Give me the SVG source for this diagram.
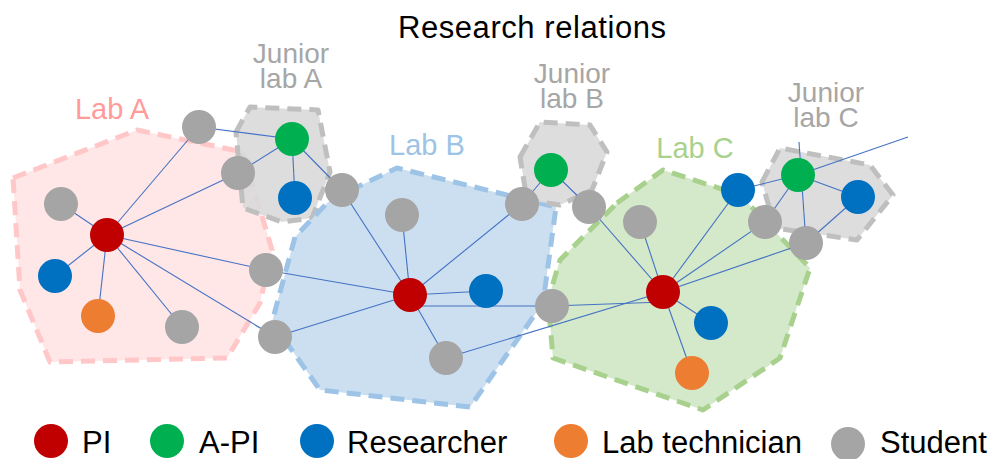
<svg xmlns="http://www.w3.org/2000/svg" width="995" height="459" viewBox="0 0 995 459">
<style>
text{font-family:"Liberation Sans",Arial,sans-serif}
.title{font-size:31px;fill:#000}
.lab{font-size:29px}
.jl{font-size:28px;fill:#A6A6A6}
.leg{font-size:31px;fill:#000}
.grp{stroke-width:5;stroke-dasharray:14 8;stroke-linejoin:round}
.labA{fill:#FFE6E7;stroke:#FFC7C8}
.labB{fill:#CCDFF1;stroke:#9DC3E6}
.labC{fill:#D4E8CA;stroke:#A9D18E}
.jun{fill:#D9D9D9;stroke:#BFBFBF;fill-opacity:0.9}
.e line{stroke:#4472C4;stroke-width:1.1}
.pi{fill:#C00000}.api{fill:#00B050}.res{fill:#0070C0}.tech{fill:#ED7D31}.stu{fill:#A5A5A5}
</style>
<text class="title" x="532" y="38" text-anchor="middle" textLength="268" lengthAdjust="spacing">Research relations</text>

<g id="lab-a">
<polygon class="grp labA" points="13,178 137,130 243,152 272,250 260,303 227,358 50,362 20,290"/>
<text class="lab" x="112" y="119" text-anchor="middle" fill="#FF9B9B">Lab A</text>
</g>
<g id="junior-lab-a">
<polygon class="grp jun" points="236,132 250,107 318,110 330,172 312,218 282,222 243,208"/>
<text class="jl" text-anchor="middle"><tspan x="291" y="63">Junior</tspan><tspan x="291" y="88">lab A</tspan></text>
</g>
<g id="lab-b">
<polygon class="grp labB" points="330,200 397,168 556,207 543,303 470,407 320,390 272,322 295,237"/>
<text class="lab" x="427" y="155" text-anchor="middle" fill="#9DC3E6">Lab B</text>
</g>
<g id="junior-lab-b">
<polygon class="grp jun" points="520,157 540,122 590,125 607,152 592,190 560,205 527,200"/>
<text class="jl" text-anchor="middle"><tspan x="572" y="83">Junior</tspan><tspan x="572" y="108">lab B</tspan></text>
</g>
<g id="lab-c">
<polygon class="grp labC" points="617,203 663,170 740,195 810,268 780,358 703,410 553,358 548,300 560,260"/>
<text class="lab" x="695" y="158" text-anchor="middle" fill="#A9D18E">Lab C</text>
</g>
<g id="junior-lab-c">
<polygon class="grp jun" points="762,182 780,148 870,165 893,195 857,240 775,228"/>
<text class="jl" text-anchor="middle"><tspan x="826" y="102">Junior</tspan><tspan x="826" y="127">lab C</tspan></text>
</g>

<g id="connectors" class="e">
<line x1="107" y1="235" x2="199" y2="127"/>
<line x1="107" y1="235" x2="238" y2="173"/>
<line x1="107" y1="235" x2="61" y2="204"/>
<line x1="107" y1="235" x2="55" y2="276"/>
<line x1="107" y1="235" x2="98" y2="316"/>
<line x1="107" y1="235" x2="182" y2="327"/>
<line x1="107" y1="235" x2="266" y2="270"/>
<line x1="107" y1="235" x2="275" y2="337"/>
<line x1="199" y1="127" x2="292" y2="139"/>
<line x1="292" y1="139" x2="238" y2="173"/>
<line x1="292" y1="139" x2="295" y2="198"/>
<line x1="292" y1="139" x2="342" y2="190"/>
<line x1="266" y1="270" x2="410" y2="295"/>
<line x1="275" y1="337" x2="410" y2="295"/>
<line x1="410" y1="295" x2="342" y2="190"/>
<line x1="410" y1="295" x2="402" y2="215"/>
<line x1="410" y1="295" x2="522" y2="204"/>
<line x1="410" y1="295" x2="486" y2="291"/>
<line x1="412" y1="306" x2="552" y2="306"/>
<line x1="410" y1="295" x2="446" y2="358"/>
<line x1="446" y1="358" x2="663" y2="292"/>
<line x1="552" y1="306" x2="663" y2="302"/>
<line x1="522" y1="204" x2="551" y2="170"/>
<line x1="551" y1="170" x2="589" y2="207"/>
<line x1="589" y1="207" x2="663" y2="292"/>
<line x1="663" y1="292" x2="640" y2="222"/>
<line x1="663" y1="292" x2="738" y2="190"/>
<line x1="663" y1="292" x2="765" y2="222"/>
<line x1="663" y1="292" x2="806" y2="243"/>
<line x1="663" y1="292" x2="711" y2="323"/>
<line x1="663" y1="292" x2="692" y2="373"/>
<line x1="738" y1="190" x2="798" y2="175"/>
<line x1="798" y1="175" x2="765" y2="222"/>
<line x1="798" y1="175" x2="858" y2="197"/>
<line x1="858" y1="197" x2="806" y2="243"/>
<line x1="798" y1="175" x2="908" y2="137"/>
<line x1="799" y1="142" x2="806" y2="243"/>
</g>

<g id="node-pi-a"><circle class="pi" cx="107" cy="235" r="17"/></g>
<g id="node-stu-a1"><circle class="stu" cx="199" cy="127" r="17"/></g>
<g id="node-stu-a2"><circle class="stu" cx="238" cy="173" r="17"/></g>
<g id="node-stu-a3"><circle class="stu" cx="61" cy="204" r="17"/></g>
<g id="node-res-a1"><circle class="res" cx="55" cy="276" r="17"/></g>
<g id="node-tech-a"><circle class="tech" cx="98" cy="316" r="17"/></g>
<g id="node-stu-a4"><circle class="stu" cx="182" cy="327" r="17"/></g>
<g id="node-stu-a5"><circle class="stu" cx="266" cy="270" r="17"/></g>
<g id="node-stu-a6"><circle class="stu" cx="275" cy="337" r="17"/></g>
<g id="node-api-ja"><circle class="api" cx="292" cy="139" r="17"/></g>
<g id="node-res-ja"><circle class="res" cx="295" cy="198" r="17"/></g>
<g id="node-stu-ja"><circle class="stu" cx="342" cy="190" r="17"/></g>
<g id="node-pi-b"><circle class="pi" cx="410" cy="295" r="17"/></g>
<g id="node-stu-b1"><circle class="stu" cx="402" cy="215" r="17"/></g>
<g id="node-res-b"><circle class="res" cx="486" cy="291" r="17"/></g>
<g id="node-stu-b2"><circle class="stu" cx="522" cy="204" r="17"/></g>
<g id="node-stu-b3"><circle class="stu" cx="552" cy="306" r="17"/></g>
<g id="node-stu-b4"><circle class="stu" cx="446" cy="358" r="17"/></g>
<g id="node-api-jb"><circle class="api" cx="551" cy="170" r="17"/></g>
<g id="node-stu-jb"><circle class="stu" cx="589" cy="207" r="17"/></g>
<g id="node-pi-c"><circle class="pi" cx="663" cy="292" r="17"/></g>
<g id="node-stu-c1"><circle class="stu" cx="640" cy="222" r="17"/></g>
<g id="node-res-c1"><circle class="res" cx="738" cy="190" r="17"/></g>
<g id="node-stu-c2"><circle class="stu" cx="765" cy="222" r="17"/></g>
<g id="node-stu-c3"><circle class="stu" cx="806" cy="243" r="17"/></g>
<g id="node-res-c2"><circle class="res" cx="711" cy="323" r="17"/></g>
<g id="node-tech-c"><circle class="tech" cx="692" cy="373" r="17"/></g>
<g id="node-api-jc"><circle class="api" cx="798" cy="175" r="17"/></g>
<g id="node-res-jc"><circle class="res" cx="858" cy="197" r="17"/></g>

<g id="legend">
<circle class="pi" cx="51" cy="441" r="17"/>
<text class="leg" x="82" y="453">PI</text>
<circle class="api" cx="167" cy="441" r="17"/>
<text class="leg" x="199" y="453">A-PI</text>
<circle class="res" cx="317" cy="441" r="17"/>
<text class="leg" x="347" y="453">Researcher</text>
<circle class="tech" cx="571" cy="441" r="17"/>
<text class="leg" x="602" y="453">Lab technician</text>
<circle class="stu" cx="848" cy="444" r="17"/>
<text class="leg" x="880" y="453">Student</text>
</g>
</svg>
